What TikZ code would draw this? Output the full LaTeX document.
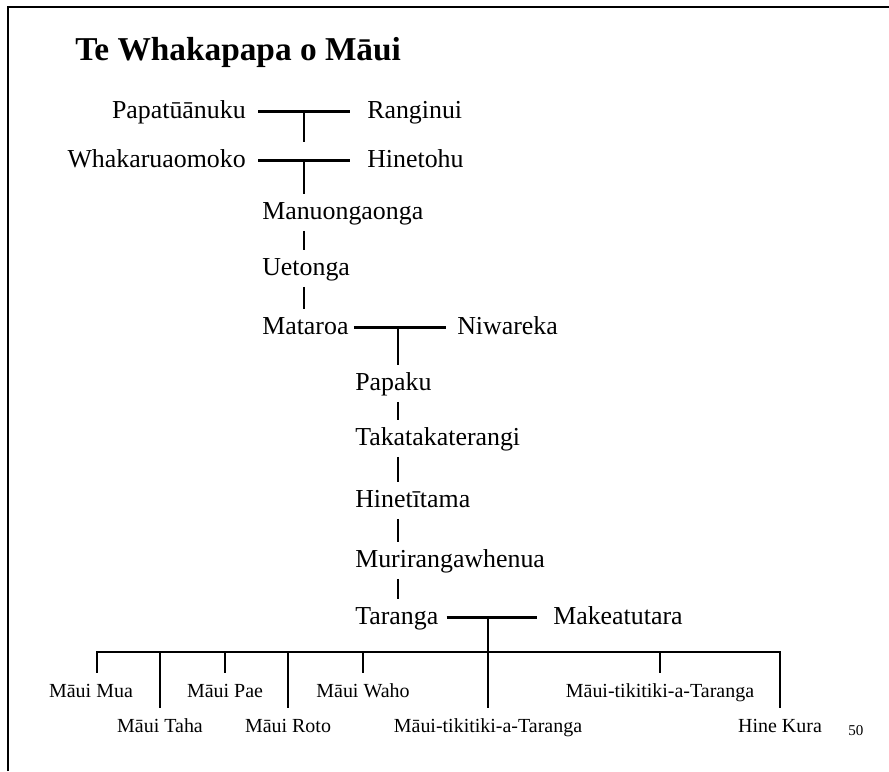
\documentclass[tikz,border=0pt]{standalone}
\usepackage{fontspec}
\setmainfont{Liberation Serif}
\usetikzlibrary{positioning}

\begin{document}
\begin{tikzpicture}[
  x=0.025cm,y=-0.025cm,
  who/.style={font=\fontsize{18.4}{22}\selectfont,inner sep=0pt,
    text height=17.6pt,text depth=8.3pt},
  kid/.style={font=\fontsize{14.2}{17}\selectfont,inner sep=0pt,
    text height=17pt,text depth=5pt},
  wed/.style={line width=0.075cm},
  kin/.style={line width=0.9pt}
]
  \useasboundingbox (0,0) rectangle (889,771);
  % Page frame and title
  \draw[line width=0.05cm] (8,771) -- (8,7) -- (889,7);
  \node[anchor=base west,inner sep=0pt,font=\fontsize{23.7}{28}\selectfont\bfseries] (title) at (75,60) {Te Whakapapa o Māui};

  % Line of descent
  \node[who,anchor=base east] (papa) at (246,118) {Papatūānuku};
  \node[who,anchor=base west] (rangi) at (367,118) {Ranginui};
  \node[who,anchor=base east] (whaka) at (246,167) {Whakaruaomoko};
  \node[who,anchor=base west] (hinetohu) at (367,167) {Hinetohu};
  \node[who,anchor=base west] (manu) at (262,219) {Manuongaonga};
  \node[who,anchor=base west] (uetonga) at (262,275) {Uetonga};
  \node[who,anchor=base west] (mataroa) at (262,334) {Mataroa};
  \node[who,anchor=base west] (niwareka) at (457,334) {Niwareka};
  \node[who,anchor=base west] (papaku) at (355,390) {Papaku};
  \node[who,anchor=base west] (takata) at (355,445) {Takatakaterangi};
  \node[who,anchor=base west] (hinetitama) at (355,507) {Hinetītama};
  \node[who,anchor=base west] (murira) at (355,567) {Murirangawhenua};
  \node[who,anchor=base west] (taranga) at (355,624) {Taranga};
  \node[who,anchor=base west] (makea) at (553,624) {Makeatutara};

  % Children of Taranga
  \node[kid,anchor=base] (mua) at (91,697) {Māui Mua};
  \node[kid,anchor=base] (pae) at (225,697) {Māui Pae};
  \node[kid,anchor=base] (waho) at (363,697) {Māui Waho};
  \node[kid,anchor=base] (tiki2) at (660,697) {Māui-tikitiki-a-Taranga};
  \node[kid,anchor=base] (taha) at (160,732) {Māui Taha};
  \node[kid,anchor=base] (roto) at (288,732) {Māui Roto};
  \node[kid,anchor=base] (tiki1) at (488,732) {Māui-tikitiki-a-Taranga};
  \node[kid,anchor=base] (kura) at (780,732) {Hine Kura};
  \node[anchor=base west,inner sep=0pt,font=\fontsize{10.7}{13}\selectfont] (pagenum) at (848,735) {50};

  % Unions
  \coordinate (u1) at (304,111.4);
  \coordinate (u2) at (304,160.4);
  \coordinate (u3) at (398,327.4);
  \coordinate (u4) at (488,617.4);
  \coordinate (barL) at (97,652);
  \coordinate (barR) at (780,652);
  \draw[wed,shorten <=0.3cm,shorten >=0.425cm] (papa) -- (rangi);
  \draw[wed,shorten <=0.3cm,shorten >=0.425cm] (whaka) -- (hinetohu);
  \draw[wed,shorten <=0.125cm,shorten >=0.275cm] (mataroa) -- (niwareka);
  \draw[wed,shorten <=0.2cm,shorten >=0.4cm] (taranga) -- (makea);

  % Descent lines
  \draw[kin] (u1) -- (u1 |- whaka.north);
  \draw[kin] (u2) -- (u2 |- manu.north);
  \draw[kin] (manu.south -| u2) -- (uetonga.north -| u2);
  \draw[kin] (uetonga.south -| u2) -- (mataroa.north -| u2);
  \draw[kin] (u3) -- (u3 |- papaku.north);
  \foreach \a/\b in {papaku/takata,takata/hinetitama,hinetitama/murira,murira/taranga}
    \draw[kin] (\a.south -| u3) -- (\b.north -| u3);
  \draw[kin] (u4) -- (u4 |- tiki1.north);
  \draw[kin] (barL |- mua.north) -- (barL) -- (barR) -- (barR |- kura.north);
  \foreach \k in {pae,waho,tiki2,taha,roto}
    \draw[kin] (\k.north) -- (\k.north |- barL);
\end{tikzpicture}
\end{document}
